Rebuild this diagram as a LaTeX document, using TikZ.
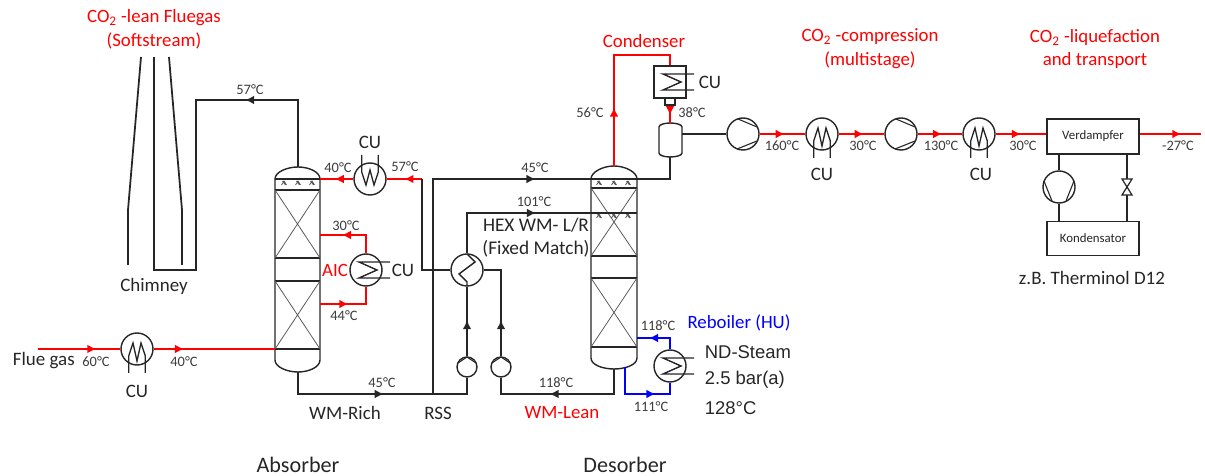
\documentclass[tikz,border=0pt]{standalone}
\usepackage{fontspec}
\setmainfont{Carlito}
\newfontfamily\arialfont{Liberation Sans}
\usetikzlibrary{arrows.meta,decorations.markings}
\definecolor{ink}{HTML}{262626}
\definecolor{hot}{HTML}{FF0000}
\definecolor{steam}{HTML}{0000FF}
\definecolor{pack}{HTML}{595959}

\begin{document}
\begin{tikzpicture}[
    x=0.2mm, y=-0.2mm,
    line width=1.0pt, color=ink,
    flowtip/.style={postaction=decorate, decoration={markings, mark=at position #1 with
                {\arrow{Latex[length=5.2pt,width=5pt]}}}},
    hotline/.style={color=hot},
    steamline/.style={color=steam},
    lab/.style={font=\fontsize{10.8}{13}\selectfont, text=ink, inner sep=0pt},
    temp/.style={font=\fontsize{8.2}{10}\selectfont, text=ink!90, inner sep=0pt},
    title/.style={font=\fontsize{10.7}{13.5}\selectfont, text=hot, align=center, inner sep=0pt},
    unit/.style={circle, draw=ink, line width=0.8pt, fill=white, minimum size=6.4mm, inner sep=0pt},
    pumpunit/.style={circle, draw=ink, line width=0.8pt, fill=white, minimum size=4mm, inner sep=0pt},
    box/.style={draw=ink, line width=0.8pt, fill=white, inner sep=0pt, font=\fontsize{7.3}{9}\selectfont,
                minimum width=18.4mm, minimum height=6.8mm},
    packing/.style={color=pack, line width=0.45pt}]
  % fixed 1205 x 476 canvas, coordinates in reference pixels
  \path[use as bounding box] (0,0) rectangle (1205,476);

  % ================= 1) units =================
  \node[unit] (cool1) at (137,349) {};
  \node[unit] (cool2) at (370,179) {};
  \node[unit] (aic) at (366,270) {};
  \node[unit] (hex) at (467,270) {};
  \node[unit] (reb) at (670,366) {};
  \node[pumpunit] (pump1) at (467,367) {};
  \node[pumpunit] (pump2) at (501,367) {};
  \node[unit] (comp1) at (743,134) {};
  \node[unit] (cool3) at (822,134) {};
  \node[unit] (comp2) at (901,134) {};
  \node[unit] (cool4) at (979,134) {};
  \node[unit] (comp3) at (1059,187) {};
  \node[box, minimum height=7mm] (verd) at (1093,136.5) {Verdampfer};
  \node[box] (kond) at (1093,238.5) {Kondensator};
  \node[draw=ink, line width=0.8pt, fill=white, minimum size=6.4mm, inner sep=0pt] (cond) at (670,82) {};
  \node[draw=ink, line width=0.8pt, fill=white, minimum width=2mm, minimum height=1.4mm, inner sep=0pt] (condout) at (670,101.5) {};

  % column anchors
  \coordinate (abstop) at (298,167);
  \coordinate (absbot) at (298,372);
  \coordinate (destop) at (614,166);
  \coordinate (desbot) at (614,369);
  \coordinate (sepin) at (670,123);
  \coordinate (sepbot) at (670,157);
  \coordinate (sepout) at (682,134);

  % ================= 2) chimney =================
  \coordinate (chimtop) at (154,57);
  \draw (141,57) -- (128,210) -- (128,265);
  \draw (169,57) -- (182,210) -- (182,265);
  \draw[flowtip=0.202] (abstop) -- (298,100) -- (196,100) -- (196,270) -- (154,270) -- (chimtop);

  % ================= 3) absorber =================
  \draw[line width=0.8pt] (275,179) .. controls (275,172) and (287,167) .. (abstop)
        .. controls (309,167) and (320,172) .. (320,179) -- (320,360)
        .. controls (320,367) and (309,372) .. (absbot)
        .. controls (287,372) and (275,367) .. (275,360) -- cycle;
  \foreach \y in {179,190,258,281,349} \draw[line width=0.8pt] (275,\y) -- (320,\y);
  \foreach \a/\b in {190/258,281/349} \draw[packing] (275,\a) -- (320,\b) (320,\a) -- (275,\b);
  \foreach \x in {284,298,312} \draw[packing] (\x-2.5,185) -- (\x,181) -- (\x+2.5,185) (\x-1.5,181) -- (\x+1.5,185);

  % ================= 4) desorber =================
  \draw[line width=0.8pt] (591,179) .. controls (591,172) and (603,166) .. (destop)
        .. controls (625,166) and (637,172) .. (637,179) -- (637,358)
        .. controls (637,365) and (625,369) .. (desbot)
        .. controls (603,369) and (591,365) .. (591,358) -- cycle;
  \foreach \y in {179,188,256,278,347} \draw[line width=0.8pt] (591,\y) -- (637,\y);
  \foreach \a/\b in {188/256,278/347} \draw[packing] (591,\a) -- (637,\b) (637,\a) -- (591,\b);
  \foreach \y in {181,214} \foreach \x in {599,614,628}
    \draw[packing] (\x-2.5,\y+4) -- (\x,\y) -- (\x+2.5,\y+4) (\x-1.5,\y) -- (\x+1.5,\y+4);

  % ================= 5) separator =================
  \draw[line width=0.8pt] (659,127) .. controls (659,124.5) and (665,123) .. (sepin)
        .. controls (676,123) and (682,124.5) .. (682,127) -- (682,153)
        .. controls (682,155.5) and (676,157) .. (sepbot)
        .. controls (665,157) and (659,155.5) .. (659,153) -- cycle;

  % ================= 6) red streams =================
  \coordinate (fluein) at (38,349);
  \coordinate (absin) at (275,349);
  \draw[hotline, flowtip=0.71] (fluein) -- (cool1.west);
  \draw[hotline, flowtip=0.25] (cool1.east) -- (absin);
  \draw[hotline, flowtip=0.56] (cool2.west) -- (320,179);
  \coordinate (split) at (422,179);
  \draw[hotline, flowtip=0.5] (split) -- (cool2.east);
  \draw[hotline, flowtip=0.66] (aic.north) -- (366,235) -- (320,235);
  \draw[hotline, flowtip=0.45] (320,304) -- (366,304) -- (aic.south);
  \draw[hotline, flowtip=0.33] (destop) -- (614,55) -- (670,55) -- (cond.north);
  \draw[hotline, flowtip=0.55] (condout.south) -- (sepin);
  \draw[hotline, flowtip=0.55] (comp1.east) -- (cool3.west);
  \draw[hotline, flowtip=0.55] (cool3.east) -- (comp2.west);
  \draw[hotline, flowtip=0.55] (comp2.east) -- (cool4.west);
  \draw[hotline, flowtip=0.5] (cool4.east) -- (verd.west |- cool4.east);
  \coordinate (prodout) at (1201,134);
  \draw[hotline, flowtip=0.68] (verd.east |- prodout) -- (prodout);

  % ================= 7) black streams =================
  \draw (hex.west) -- (422,270) -- (split);
  \draw[flowtip=0.52] (absbot) -- (298,394) -- (467,394) -- (pump1.south);
  \draw[flowtip=0.67] (433,394) -- (433,179) -- (670,179) -- (sepbot);
  \draw[flowtip=0.52] (pump1.north) -- (hex.south);
  \draw[flowtip=0.52] (hex.north) -- (467,213) -- (637,213);
  \draw[flowtip=0.35] (pump2.north) -- (501,270) -- (hex.east);
  \draw[flowtip=0.58] (desbot) -- (614,394) -- (501,394) -- (pump2.south);
  \draw (cond.south) -- (condout.north);
  \draw (sepout) -- (comp1.west);
  % refrigerant loop
  \draw (comp3.north) -- (verd.south -| comp3.north);
  \draw (comp3.south) -- (kond.north -| comp3.south);
  \coordinate (valve) at (1127,187);
  \draw (verd.south -| valve) -- (kond.north -| valve);
  \draw[line width=0.7pt, fill=white] (1122,179) -- (1132,179) -- (1122,195) -- (1132,195) -- cycle;

  % ================= 8) blue streams =================
  \draw[steamline, flowtip=0.73] (reb.north) -- (670,338) -- (637,338);
  \draw[steamline, flowtip=0.69] (625,367) -- (625,394) -- (670,394) -- (reb.south);

  % ================= 9) symbols inside the units =================
  \foreach \n in {cool1,cool3,cool4}
    \draw[line width=0.75pt, shift={(\n)}] (-8.3,24) -- (-8.3,7) -- (-4,-6) -- (0,12) -- (4,-6) -- (8.3,7) -- (8.3,24);
  \draw[line width=0.75pt, shift={(cool2)}] (-8.3,-24) -- (-8.3,-7) -- (-4,6) -- (0,-9) -- (4,6) -- (8.3,-7) -- (8.3,-24);
  \foreach \n in {aic,reb,cond}
    \draw[line width=0.8pt, shift={(\n)}] (24,-8) -- (-7,-8) -- (11,0) -- (-7,8) -- (24,8);
  \draw[line width=0.8pt, shift={(hex)}] (0,-16) -- (8,-8) -- (-8,4) -- (0,12) -- (0,16);
  \foreach \n in {pump1,pump2}
    \draw[line width=0.6pt, shift={(\n)}] (-9,-4) -- (0,-10) -- (9,-4);
  \foreach \n in {comp1,comp2}
    \draw[line width=0.6pt, shift={(\n)}] (-5,-15) -- (14,-7) (-6,15) -- (14,7);
  \draw[line width=0.6pt, shift={(comp3)}] (-15,-6) -- (-7,14) (15,-6) -- (7,14);

  % ================= 10) labels =================
  \foreach \x/\y/\t [count=\i] in {
      250/90/57, 96/362/60, 184/362/40, 346/226/30, 344/316/44, 338/168/40, 405/167/57,
      382/383/45, 535/168/45, 534/202/101, 556/383/118, 658/326/118, 651/407/111,
      590/113/56, 692/113/38, 782/146/160, 863/146/30, 941/146/130, 1023/146/30, 1178/146/-27}
    \node[temp] (temp\i) at (\x,\y) {\t°C};
  \foreach \x/\y/\t [count=\i] in {
      137/391/CU, 370/142/CU, 403/270/CU, 710/82/CU, 822/174/CU, 981/174/CU,
      154/286/Chimney, 345/413/WM-Rich, 438/413/RSS, 1092/278/z.B. Therminol D12}
    \node[lab] (lab\i) at (\x,\y) {\t};
  \node[lab, anchor=west] (fluegas) at (12,361) {Flue gas};
  \node[lab, font=\fontsize{12.6}{15}\selectfont] (absname) at (298,465) {Absorber};
  \node[lab, font=\fontsize{12.6}{15}\selectfont] (desname) at (625,465) {Desorber};
  \node[lab, align=center, font=\fontsize{11}{13.2}\selectfont] (hexname) at (536,238) {HEX WM- L/R\\(Fixed Match)};
  \node[title] (leanname) at (154,29) {CO\textsubscript{2} -lean Fluegas\\(Softstream)};
  \node[title] (condname) at (644,41) {Condenser};
  \node[title] (compname) at (870,49) {CO\textsubscript{2} -compression\\(multistage)};
  \node[title] (liqname) at (1095,49) {CO\textsubscript{2} -liquefaction\\and transport};
  \node[title] (aicname) at (335,270) {AIC};
  \node[title] (wmlean) at (562,413) {WM-Lean};
  \node[title, text=steam] (rebname) at (739,323) {Reboiler (HU)};
  \node[lab, anchor=west, font=\arialfont\fontsize{10.5}{12}\selectfont] (steam1) at (704,352) {ND-Steam};
  \node[lab, anchor=west, font=\arialfont\fontsize{10.5}{12}\selectfont] (steam2) at (704,380) {2.5 bar(a)};
  \node[lab, anchor=west, font=\arialfont\fontsize{10.5}{12}\selectfont] (steam3) at (704,408) {128°C};
\end{tikzpicture}
\end{document}
